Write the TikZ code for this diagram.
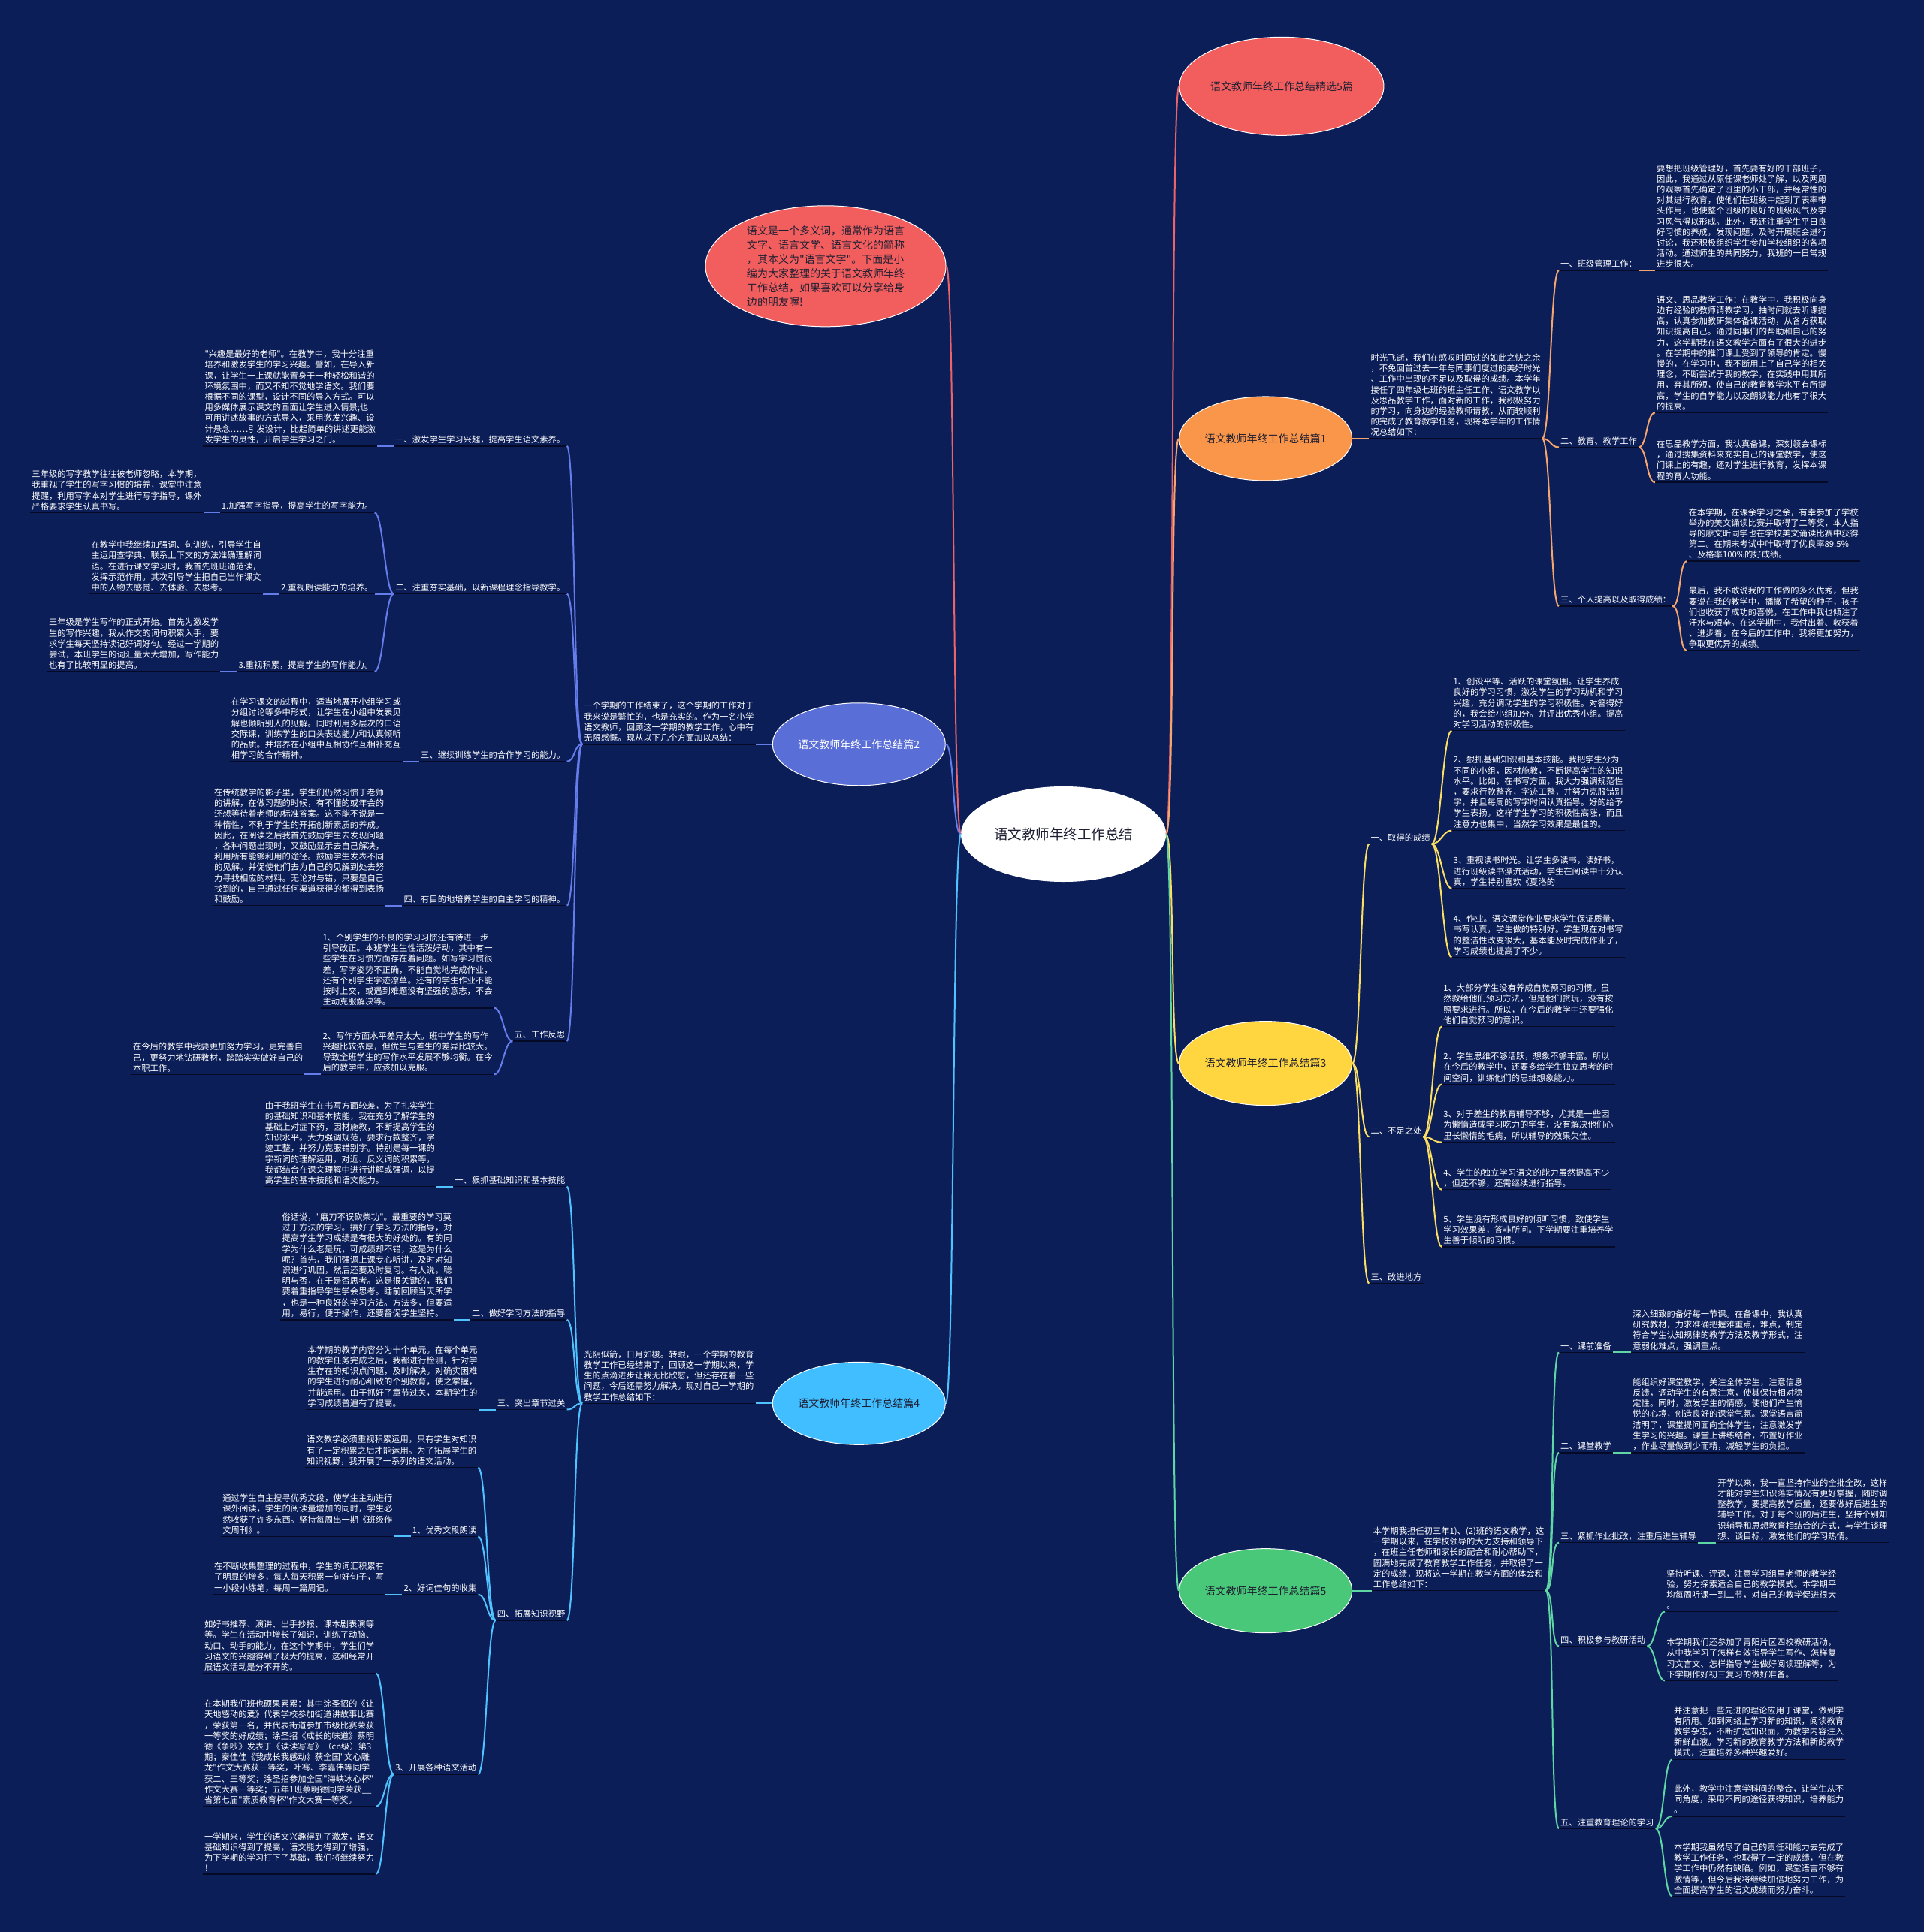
\documentclass[tikz,border=0pt]{standalone}
\usepackage{fontspec}
\setmainfont{Noto Sans CJK SC}[Ligatures=TeXOff]
\usetikzlibrary{shapes.geometric}
\definecolor{bg}{RGB}{12,30,87}
\definecolor{uline}{RGB}{4,10,38}
\definecolor{fRed}{RGB}{242,94,94}
\definecolor{fOrange}{RGB}{249,150,74}
\definecolor{fYellow}{RGB}{255,214,64}
\definecolor{fGreen}{RGB}{72,200,120}
\definecolor{fBlue}{RGB}{90,110,215}
\definecolor{fLblue}{RGB}{64,190,255}
\definecolor{lRed}{RGB}{235,100,105}
\definecolor{lOrange}{RGB}{245,165,110}
\definecolor{lYellow}{RGB}{250,222,100}
\definecolor{lGreen}{RGB}{95,215,165}
\definecolor{lBlue}{RGB}{100,125,235}
\definecolor{lLblue}{RGB}{80,195,255}
\definecolor{eTxt}{RGB}{30,30,50}
\newcommand\tfont{\fontsize{11.3pt}{14.2pt}\selectfont}
\newcommand\efont{\fontsize{14pt}{17pt}\selectfont}
\newcommand\cfont{\fontsize{18.5pt}{22pt}\selectfont}
\newcommand\ifont{\fontsize{14pt}{19pt}\selectfont}
\newcommand\conL[3]{\draw[con,#1] (#2) .. controls +(-7,0) and +(7,0) .. (#3);}
\newcommand\conR[3]{\draw[con,#1] (#2) .. controls +(7,0) and +(-7,0) .. (#3);}
\begin{document}
\begin{tikzpicture}[x=1.64pt,y=-1.64pt,
  t/.style={text=white,align=left,font=\tfont,inner xsep=2pt,inner ysep=3pt},
  tl/.style={t,anchor=south east},
  tr/.style={t,anchor=south west},
  cl/.style={t,anchor=south east,xshift=-22pt},
  cr/.style={t,anchor=south west,xshift=24pt},
  ell/.style={ellipse,draw=white,line width=1pt,inner sep=0pt,font=\efont,text=eTxt},
  ul/.style={draw=uline,line width=1.5pt},
  con/.style={line width=2pt},
]
\fill[bg] (0,0) rectangle (1561,1568);
\useasboundingbox (0,0) rectangle (1561,1568);

% ---------- ellipses ----------
\node[ell,fill=white,minimum width=272pt,minimum height=126pt,font=\cfont] (c) at (863,677) {语文教师年终工作总结};
\node[ell,fill=fRed,minimum width=272pt,minimum height=131pt] (e0) at (1040,70) {语文教师年终工作总结精选5篇};
\node[ell,fill=fOrange,minimum width=230pt,minimum height=112pt] (e1) at (1027,356) {语文教师年终工作总结篇1};
\node[ell,fill=fYellow,minimum width=230pt,minimum height=112pt] (e3) at (1027,863) {语文教师年终工作总结篇3};
\node[ell,fill=fGreen,minimum width=230pt,minimum height=112pt] (e5) at (1027,1291) {语文教师年终工作总结篇5};
\node[ell,fill=fRed,minimum width=320pt,minimum height=161pt,font=\ifont,align=left] (ei) at (670,216) {语文是一个多义词，通常作为语言\\文字、语言文学、语言文化的简称\\，其本义为"语言文字"。下面是小\\编为大家整理的关于语文教师年终\\工作总结，如果喜欢可以分享给身\\边的朋友喔!};
\node[ell,fill=fBlue,text=white,minimum width=230pt,minimum height=110pt] (e2) at (697,604) {语文教师年终工作总结篇2};
\node[ell,fill=fLblue,minimum width=230pt,minimum height=110pt] (e4) at (697,1139) {语文教师年终工作总结篇4};

% ---------- 篇2 ----------
\node[tl] (i2) at (613,604) {一个学期的工作结束了，这个学期的工作对于\\我来说是繁忙的，也是充实的。作为一名小学\\语文教师，回顾这一学期的教学工作，心中有\\无限感慨。现从以下几个方面加以总结：};
\node[tl] (L1) at (460,362) {一、激发学生学习兴趣，提高学生语文素养。};
\node[cl] (L1t) at (L1.south west) {"兴趣是最好的老师"。在教学中，我十分注重\\培养和激发学生的学习兴趣。譬如，在导入新\\课，让学生一上课就能置身于一种轻松和谐的\\环境氛围中，而又不知不觉地学语文。我们要\\根据不同的课型，设计不同的导入方式。可以\\用多媒体展示课文的画面让学生进入情景;也\\可用讲述故事的方式导入，采用激发兴趣、设\\计悬念……引发设计，比起简单的讲述更能激\\发学生的灵性，开启学生学习之门。};
\node[tl] (L2) at (460,482) {二、注重夯实基础，以新课程理念指导教学。};
\node[tl] (L2a) at (304,416) {1.加强写字指导，提高学生的写字能力。};
\node[cl] (L2at) at (L2a.south west) {三年级的写字教学往往被老师忽略，本学期，\\我重视了学生的写字习惯的培养，课堂中注意\\提醒，利用写字本对学生进行写字指导，课外\\严格要求学生认真书写。};
\node[tl] (L2b) at (304,482) {2.重视朗读能力的培养。};
\node[cl] (L2bt) at (L2b.south west) {在教学中我继续加强词、句训练，引导学生自\\主运用查字典、联系上下文的方法准确理解词\\语。在进行课文学习时，我首先班班通范读，\\发挥示范作用。其次引导学生把自己当作课文\\中的人物去感觉、去体验、去思考。};
\node[tl] (L2c) at (304,545) {3.重视积累，提高学生的写作能力。};
\node[cl] (L2ct) at (L2c.south west) {三年级是学生写作的正式开始。首先为激发学\\生的写作兴趣，我从作文的词句积累入手，要\\求学生每天坚持读记好词好句。经过一学期的\\尝试，本班学生的词汇量大大增加，写作能力\\也有了比较明显的提高。};
\node[tl] (L3) at (460,618) {三、继续训练学生的合作学习的能力。};
\node[cl] (L3t) at (L3.south west) {在学习课文的过程中，适当地展开小组学习或\\分组讨论等多中形式，让学生在小组中发表见\\解也倾听别人的见解。同时利用多层次的口语\\交际课，训练学生的口头表达能力和认真倾听\\的品质。并培养在小组中互相协作互相补充互\\相学习的合作精神。};
\node[tl] (L4) at (460,735) {四、有目的地培养学生的自主学习的精神。};
\node[cl] (L4t) at (L4.south west) {在传统教学的影子里，学生们仍然习惯于老师\\的讲解，在做习题的时候，有不懂的或年会的\\还想等待着老师的标准答案。这不能不说是一\\种惰性，不利于学生的开拓创新素质的养成。\\因此，在阅读之后我首先鼓励学生去发现问题\\，各种问题出现时，又鼓励显示去自己解决，\\利用所有能够利用的途径。鼓励学生发表不同\\的见解。并促使他们去为自己的见解到处去努\\力寻找相应的材料。无论对与错，只要是自己\\找到的，自己通过任何渠道获得的都得到表扬\\和鼓励。};
\node[tl] (L5) at (460,845) {五、工作反思};
\node[tl] (L5a) at (401,818) {1、个别学生的不良的学习习惯还有待进一步\\引导改正。本班学生生性活泼好动，其中有一\\些学生在习惯方面存在着问题。如写字习惯很\\差，写字姿势不正确，不能自觉地完成作业，\\还有个别学生字迹潦草。还有的学生作业不能\\按时上交，或遇到难题没有坚强的意志，不会\\主动克服解决等。};
\node[tl] (L5b) at (401,872) {2、写作方面水平差异太大。班中学生的写作\\兴趣比较浓厚，但优生与差生的差异比较大。\\导致全班学生的写作水平发展不够均衡。在今\\后的教学中，应该加以克服。};
\node[cl] (L5bt) at (L5b.south west) {在今后的教学中我要更加努力学习，更完善自\\己，更努力地钻研教材，踏踏实实做好自己的\\本职工作。};

% ---------- 篇4 ----------
\node[tl] (i4) at (613,1139) {光阴似箭，日月如梭。转眼，一个学期的教育\\教学工作已经结束了，回顾这一学期以来，学\\生的点滴进步让我无比欣慰，但还存在着一些\\问题，今后还需努力解决。现对自己一学期的\\教学工作总结如下：};
\node[tl] (M1) at (460,963) {一、狠抓基础知识和基本技能};
\node[cl] (M1t) at (M1.south west) {由于我班学生在书写方面较差，为了扎实学生\\的基础知识和基本技能，我在充分了解学生的\\基础上对症下药，因材施教，不断提高学生的\\知识水平。大力强调规范，要求行款整齐，字\\迹工整，并努力克服错别字。特别是每一课的\\字新词的理解运用，对近、反义词的积累等，\\我都结合在课文理解中进行讲解或强调，以提\\高学生的基本技能和语文能力。};
\node[tl] (M2) at (460,1071) {二、做好学习方法的指导};
\node[cl] (M2t) at (M2.south west) {俗话说，"磨刀不误砍柴功"。最重要的学习莫\\过于方法的学习。搞好了学习方法的指导，对\\提高学生学习成绩是有很大的好处的。有的同\\学为什么老是玩，可成绩却不错，这是为什么\\呢？首先，我们强调上课专心听讲，及时对知\\识进行巩固，然后还要及时复习。有人说，聪\\明与否，在于是否思考。这是很关键的，我们\\要着重指导学生学会思考。睡前回顾当天所学\\，也是一种良好的学习方法。方法多，但要适\\用，易行，便于操作，还要督促学生坚持。};
\node[tl] (M3) at (460,1144) {三、突出章节过关};
\node[cl] (M3t) at (M3.south west) {本学期的教学内容分为十个单元。在每个单元\\的教学任务完成之后，我都进行检测，针对学\\生存在的知识点问题，及时解决。对确实困难\\的学生进行耐心细致的个别教育，使之掌握，\\并能运用。由于抓好了章节过关，本期学生的\\学习成绩普遍有了提高。};
\node[tl] (M4) at (460,1315) {四、拓展知识视野};
\node[tl] (M4a) at (388,1191) {语文教学必须重视积累运用，只有学生对知识\\有了一定积累之后才能运用。为了拓展学生的\\知识视野，我开展了一系列的语文活动。};
\node[tl] (M4b) at (388,1247) {1、优秀文段朗读};
\node[cl] (M4bt) at (M4b.south west) {通过学生自主搜寻优秀文段，使学生主动进行\\课外阅读，学生的阅读量增加的同时，学生必\\然收获了许多东西。坚持每周出一期《班级作\\文周刊》。};
\node[tl] (M4c) at (388,1294) {2、好词佳句的收集};
\node[cl] (M4ct) at (M4c.south west) {在不断收集整理的过程中，学生的词汇积累有\\了明显的增多，每人每天积累一句好句子，写\\一小段小练笔，每周一篇周记。};
\node[tl] (M4d) at (388,1440) {3、开展各种语文活动};
\node[tl] (M4d1) at (305,1358) {如好书推荐、演讲、出手抄报、课本剧表演等\\等。学生在活动中增长了知识，训练了动脑、\\动口、动手的能力。在这个学期中，学生们学\\习语文的兴趣得到了极大的提高，这和经常开\\展语文活动是分不开的。};
\node[tl] (M4d2) at (305,1466) {在本期我们班也硕果累累：其中涂圣招的《让\\天地感动的爱》代表学校参加街道讲故事比赛\\，荣获第一名，并代表街道参加市级比赛荣获\\一等奖的好成绩；涂圣招《成长的味道》蔡明\\德《争吵》发表于《读读写写》（cn级）第3\\期；秦佳佳《我成长我感动》获全国"文心雕\\龙"作文大赛获一等奖，叶骞、李嘉伟等同学\\获二、三等奖；涂圣招参加全国"海峡冰心杯"\\作文大赛一等奖；五年1班蔡明德同学荣获\_\_\\省第七届"素质教育杯"作文大赛一等奖。};
\node[tl] (M4d3) at (305,1521) {一学期来，学生的语文兴趣得到了激发，语文\\基础知识得到了提高，语文能力得到了增强，\\为下学期的学习打下了基础，我们将继续努力\\！};

% ---------- 篇1 ----------
\node[tr] (i1) at (1111,356) {时光飞逝，我们在感叹时间过的如此之快之余\\，不免回首过去一年与同事们度过的美好时光\\、工作中出现的不足以及取得的成绩。本学年\\接任了四年级七班的班主任工作、语文教学以\\及思品教学工作，面对新的工作，我积极努力\\的学习，向身边的经验教师请教，从而较顺利\\的完成了教育教学任务，现将本学年的工作情\\况总结如下：};
\node[tr] (R1) at (1265,219.5) {一、班级管理工作：};
\node[tr] (R1t) at (1343,219.5) {要想把班级管理好，首先要有好的干部班子，\\因此，我通过从原任课老师处了解，以及两周\\的观察首先确定了班里的小干部，并经常性的\\对其进行教育，使他们在班级中起到了表率带\\头作用，也使整个班级的良好的班级风气及学\\习风气得以形成。此外，我还注重学生平日良\\好习惯的养成，发现问题，及时开展班会进行\\讨论，我还积极组织学生参加学校组织的各项\\活动。通过师生的共同努力，我班的一日常规\\进步很大。};
\node[tr] (R2) at (1265,363) {二、教育、教学工作};
\node[tr] (R2a) at (1343,335) {语文、思品教学工作：在教学中，我积极向身\\边有经验的教师请教学习，抽时间就去听课提\\高，认真参加教研集体备课活动，从各方获取\\知识提高自己。通过同事们的帮助和自己的努\\力，这学期我在语文教学方面有了很大的进步\\。在学期中的推门课上受到了领导的肯定。慢\\慢的，在学习中，我不断用上了自己学的相关\\理念，不断尝试于我的教学，在实践中用其所\\用，弃其所短，使自己的教育教学水平有所提\\高，学生的自学能力以及朗读能力也有了很大\\的提高。};
\node[tr] (R2b) at (1343,391.5) {在思品教学方面，我认真备课，深刻领会课标\\，通过搜集资料来充实自己的课堂教学，使这\\门课上的有趣，还对学生进行教育，发挥本课\\程的育人功能。};
\node[tr] (R3) at (1265,492) {三、个人提高以及取得成绩：};
\node[tr] (R3a) at (1369,455.5) {在本学期，在课余学习之余，有幸参加了学校\\举办的美文诵读比赛并取得了二等奖，本人指\\导的廖文昕同学也在学校美文诵读比赛中获得\\第二。在期末考试中叶取得了优良率89.5\%\\、及格率100\%的好成绩。};
\node[tr] (R3b) at (1369,528) {最后，我不敢说我的工作做的多么优秀，但我\\要说在我的教学中，播撒了希望的种子，孩子\\们也收获了成功的喜悦，在工作中我也倾注了\\汗水与艰辛。在这学期中，我付出着、收获着\\、进步着，在今后的工作中，我将更加努力，\\争取更优异的成绩。};

% ---------- 篇3 ----------
\node[tr] (Y1) at (1111,685) {一、取得的成绩};
\node[tr] (Y1a) at (1178,593) {1、创设平等、活跃的课堂氛围。让学生养成\\良好的学习习惯，激发学生的学习动机和学习\\兴趣，充分调动学生的学习积极性。对答得好\\的，我会给小组加分。并评出优秀小组。提高\\对学习活动的积极性。};
\node[tr] (Y1b) at (1178,674) {2、狠抓基础知识和基本技能。我把学生分为\\不同的小组，因材施教，不断提高学生的知识\\水平。比如，在书写方面，我大力强调规范性\\，要求行款整齐，字迹工整，并努力克服错别\\字，并且每周的写字时间认真指导。好的给予\\学生表扬。这样学生学习的积极性高涨，而且\\注意力也集中，当然学习效果是最佳的。};
\node[tr] (Y1c) at (1178,721) {3、重视读书时光。让学生多读书，读好书，\\进行班级读书漂流活动，学生在阅读中十分认\\真，学生特别喜欢《夏洛的};
\node[tr] (Y1d) at (1178,777) {4、作业。语文课堂作业要求学生保证质量，\\书写认真，学生做的特别好。学生现在对书写\\的整洁性改变很大，基本能及时完成作业了，\\学习成绩也提高了不少。};
\node[tr] (Y2) at (1111,922.6) {二、不足之处};
\node[tr] (Y2a) at (1170,833) {1、大部分学生没有养成自觉预习的习惯。虽\\然教给他们预习方法，但是他们贪玩，没有按\\照要求进行。所以，在今后的教学中还要强化\\他们自觉预习的意识。};
\node[tr] (Y2b) at (1170,880) {2、学生思维不够活跃，想象不够丰富。所以\\在今后的教学中，还要多给学生独立思考的时\\间空间，训练他们的思维想象能力。};
\node[tr] (Y2c) at (1170,927) {3、对于差生的教育辅导不够，尤其是一些因\\为懒惰造成学习吃力的学生，没有解决他们心\\里长懒惰的毛病，所以辅导的效果欠佳。};
\node[tr] (Y2d) at (1170,965.5) {4、学生的独立学习语文的能力虽然提高不少\\，但还不够，还需继续进行指导。};
\node[tr] (Y2e) at (1170,1012) {5、学生没有形成良好的倾听习惯，致使学生\\学习效果差，答非所问。下学期要注重培养学\\生善于倾听的习惯。};
\node[tr] (Y3) at (1111,1041.6) {三、改进地方};

% ---------- 篇5 ----------
\node[tr] (i5) at (1113,1291) {本学期我担任初三年1)、(2)班的语文教学，这\\一学期以来，在学校领导的大力支持和领导下\\，在班主任老师和家长的配合和耐心帮助下，\\圆满地完成了教育教学工作任务，并取得了一\\定的成绩，现将这一学期在教学方面的体会和\\工作总结如下：};
\node[tr] (G1) at (1265,1097.6) {一、课前准备};
\node[cr] (G1t) at (G1.south east) {深入细致的备好每一节课。在备课中，我认真\\研究教材，力求准确把握难重点，难点，制定\\符合学生认知规律的教学方法及教学形式，注\\意弱化难点，强调重点。};
\node[tr] (G2) at (1265,1179) {二、课堂教学};
\node[cr] (G2t) at (G2.south east) {能组织好课堂教学，关注全体学生，注意信息\\反馈，调动学生的有意注意，使其保持相对稳\\定性。同时，激发学生的情感，使他们产生愉\\悦的心境，创造良好的课堂气氛。课堂语言简\\洁明了，课堂提问面向全体学生，注意激发学\\生学习的兴趣。课堂上讲练结合，布置好作业\\，作业尽量做到少而精，减轻学生的负担。};
\node[tr] (G3) at (1265,1252) {三、紧抓作业批改，注重后进生辅导};
\node[cr] (G3t) at (G3.south east) {开学以来，我一直坚持作业的全批全改，这样\\才能对学生知识落实情况有更好掌握，随时调\\整教学。要提高教学质量，还要做好后进生的\\辅导工作。对于每个班的后进生，坚持个别知\\识辅导和思想教育相结合的方式，与学生谈理\\想、谈目标，激发他们的学习热情。};
\node[tr] (G4) at (1265,1336) {四、积极参与教研活动};
\node[tr] (G4a) at (1351,1308) {坚持听课、评课，注意学习组里老师的教学经\\验，努力探索适合自己的教学模式。本学期平\\均每周听课一到二节，对自己的教学促进很大\\。};
\node[tr] (G4b) at (1351,1364) {本学期我们还参加了青阳片区四校教研活动，\\从中我学习了怎样有效指导学生写作、怎样复\\习文言文、怎样指导学生做好阅读理解等，为\\下学期作好初三复习的做好准备。};
\node[tr] (G5) at (1265,1484) {五、注重教育理论的学习};
\node[tr] (G5a) at (1357,1428) {并注意把一些先进的理论应用于课堂，做到学\\有所用。如到网络上学习新的知识，阅读教育\\教学杂志，不断扩宽知识面，为教学内容注入\\新鲜血液。学习新的教育教学方法和新的教学\\模式，注重培养多种兴趣爱好。};
\node[tr] (G5b) at (1357,1474) {此外，教学中注意学科间的整合，让学生从不\\同角度，采用不同的途径获得知识，培养能力\\。};
\node[tr] (G5c) at (1357,1539) {本学期我虽然尽了自己的责任和能力去完成了\\教学工作任务，也取得了一定的成绩，但在教\\学工作中仍然有缺陷。例如，课堂语言不够有\\激情等，但今后我将继续加倍地努力工作，为\\全面提高学生的语文成绩而努力奋斗。};

% ---------- underlines ----------
\foreach \n in {i2,L1,L1t,L2,L2a,L2at,L2b,L2bt,L2c,L2ct,L3,L3t,L4,L4t,L5,L5a,L5b,L5bt,
  i4,M1,M1t,M2,M2t,M3,M3t,M4,M4a,M4b,M4bt,M4c,M4ct,M4d,M4d1,M4d2,M4d3,
  i1,R1,R1t,R2,R2a,R2b,R3,R3a,R3b,
  Y1,Y1a,Y1b,Y1c,Y1d,Y2,Y2a,Y2b,Y2c,Y2d,Y2e,Y3,
  i5,G1,G1t,G2,G2t,G3,G3t,G4,G4a,G4b,G5,G5a,G5b,G5c}
  \draw[ul] (\n.south west) -- (\n.south east);

% ---------- connectors: centre ----------
\conR{lRed}{c.east}{e0.west}
\conR{lOrange}{c.east}{e1.west}
\conR{lYellow}{c.east}{e3.west}
\conR{lGreen}{c.east}{e5.west}
\conL{lRed}{c.west}{ei.east}
\conL{lBlue}{c.west}{e2.east}
\conL{lLblue}{c.west}{e4.east}

% 篇2
\conL{lBlue}{e2.west}{i2.south east}
\foreach \n in {L1,L2,L3,L4,L5} {\conL{lBlue}{i2.south west}{\n.south east}}
\conL{lBlue}{L1.south west}{L1t.south east}
\foreach \n in {L2a,L2b,L2c} {\conL{lBlue}{L2.south west}{\n.south east}}
\conL{lBlue}{L2a.south west}{L2at.south east}
\conL{lBlue}{L2b.south west}{L2bt.south east}
\conL{lBlue}{L2c.south west}{L2ct.south east}
\conL{lBlue}{L3.south west}{L3t.south east}
\conL{lBlue}{L4.south west}{L4t.south east}
\foreach \n in {L5a,L5b} {\conL{lBlue}{L5.south west}{\n.south east}}
\conL{lBlue}{L5b.south west}{L5bt.south east}

% 篇4
\conL{lLblue}{e4.west}{i4.south east}
\foreach \n in {M1,M2,M3,M4} {\conL{lLblue}{i4.south west}{\n.south east}}
\conL{lLblue}{M1.south west}{M1t.south east}
\conL{lLblue}{M2.south west}{M2t.south east}
\conL{lLblue}{M3.south west}{M3t.south east}
\foreach \n in {M4a,M4b,M4c,M4d} {\conL{lLblue}{M4.south west}{\n.south east}}
\conL{lLblue}{M4b.south west}{M4bt.south east}
\conL{lLblue}{M4c.south west}{M4ct.south east}
\foreach \n in {M4d1,M4d2,M4d3} {\conL{lLblue}{M4d.south west}{\n.south east}}

% 篇1
\conR{lOrange}{e1.east}{i1.south west}
\foreach \n in {R1,R2,R3} {\conR{lOrange}{i1.south east}{\n.south west}}
\conR{lOrange}{R1.south east}{R1t.south west}
\foreach \n in {R2a,R2b} {\conR{lOrange}{R2.south east}{\n.south west}}
\foreach \n in {R3a,R3b} {\conR{lOrange}{R3.south east}{\n.south west}}

% 篇3
\foreach \n in {Y1,Y2,Y3} {\conR{lYellow}{e3.east}{\n.south west}}
\foreach \n in {Y1a,Y1b,Y1c,Y1d} {\conR{lYellow}{Y1.south east}{\n.south west}}
\foreach \n in {Y2a,Y2b,Y2c,Y2d,Y2e} {\conR{lYellow}{Y2.south east}{\n.south west}}

% 篇5
\conR{lGreen}{e5.east}{i5.south west}
\foreach \n in {G1,G2,G3,G4,G5} {\conR{lGreen}{i5.south east}{\n.south west}}
\conR{lGreen}{G1.south east}{G1t.south west}
\conR{lGreen}{G2.south east}{G2t.south west}
\conR{lGreen}{G3.south east}{G3t.south west}
\foreach \n in {G4a,G4b} {\conR{lGreen}{G4.south east}{\n.south west}}
\foreach \n in {G5a,G5b,G5c} {\conR{lGreen}{G5.south east}{\n.south west}}
\end{tikzpicture}
\end{document}
